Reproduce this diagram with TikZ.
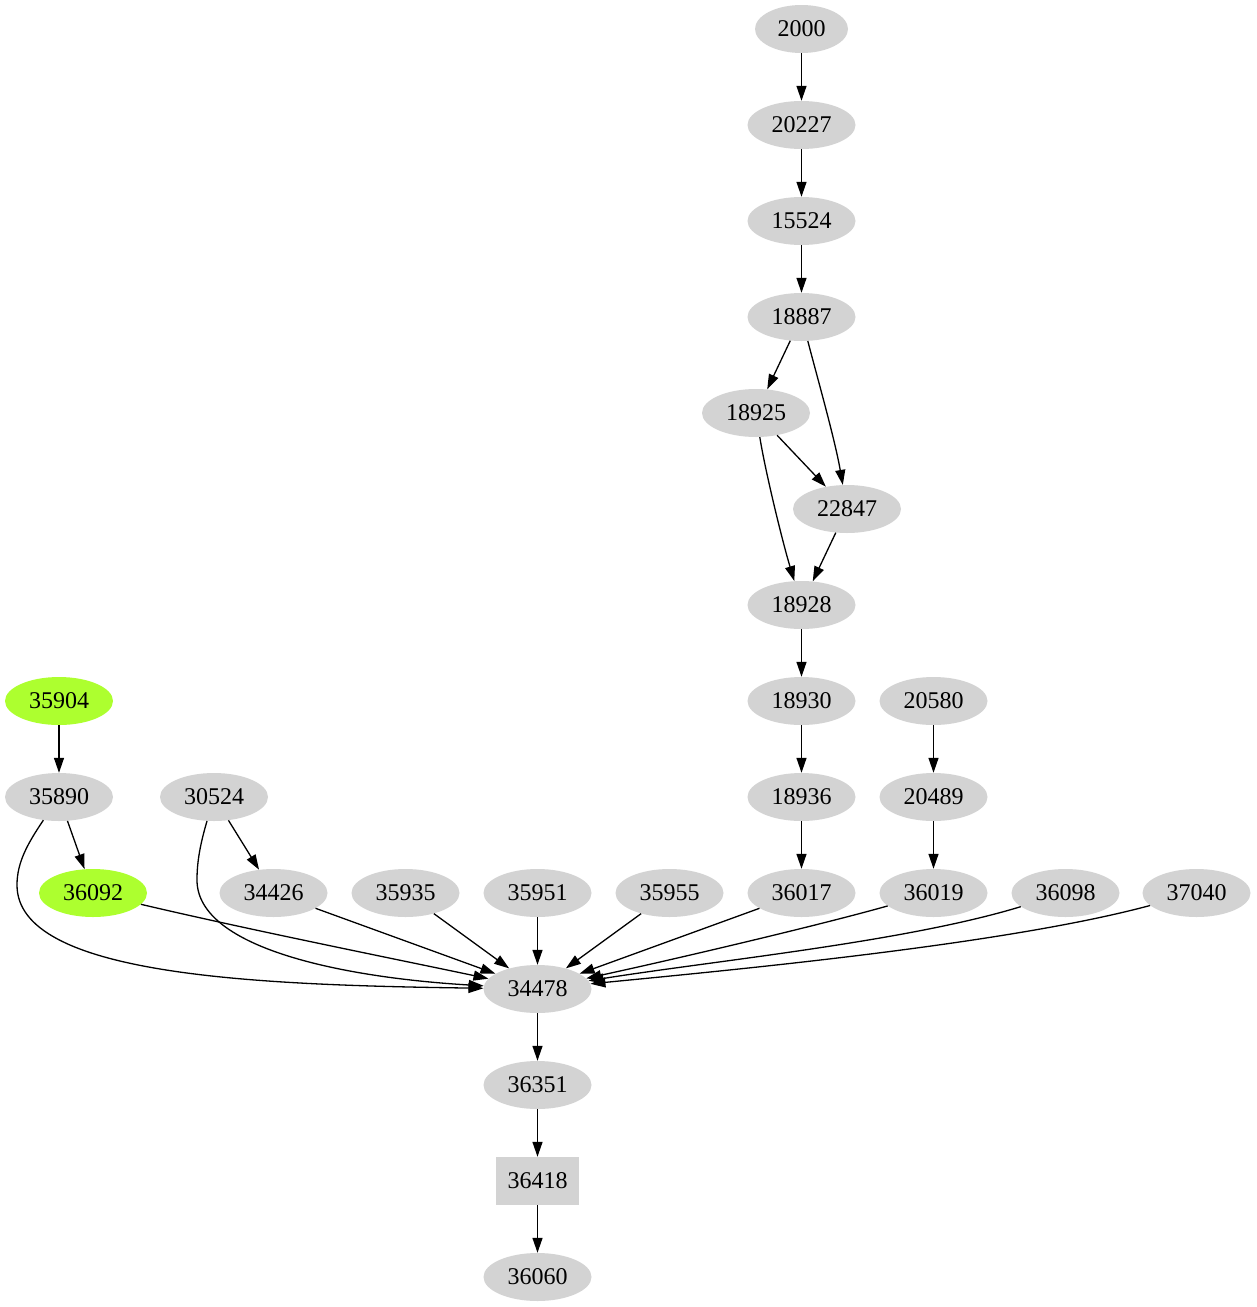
\documentclass[tikz,border=0pt]{standalone}
\usepackage{fontspec}
\setmainfont{Liberation Serif}
\usetikzlibrary{shapes.geometric,arrows.meta}
\definecolor{lgray}{HTML}{D3D3D3}
\definecolor{gyellow}{HTML}{ADFF2F}
\begin{document}
\begin{tikzpicture}[x=1pt,y=-1pt,
  gnode/.style={ellipse, fill=lgray, minimum width=108pt, minimum height=48pt, inner sep=0pt, font=\fontsize{24}{28}\selectfont},
  greennode/.style={gnode, fill=gyellow},
  boxnode/.style={rectangle, fill=lgray, minimum width=83pt, minimum height=48pt, inner sep=0pt, font=\fontsize{24}{28}\selectfont},
  edge/.style={-{Triangle[length=15pt,width=10pt]}, line width=1.3pt, black}]
\useasboundingbox (0,0) rectangle (1257,1307);
% main column
\node[gnode, minimum width=93pt] (n2000) at (801.5,29) {2000};
\node[gnode] (n20227) at (801.5,125) {20227};
\node[gnode] (n15524) at (801.5,221) {15524};
\node[gnode] (n18887) at (801.5,317) {18887};
\node[gnode] (n18925) at (756,413) {18925};
\node[gnode] (n22847) at (847,509) {22847};
\node[gnode] (n18928) at (801.5,605) {18928};
\node[gnode] (n18930) at (801.5,701) {18930};
\node[gnode] (n18936) at (801.5,797) {18936};
\node[gnode] (n20580) at (933.5,701) {20580};
\node[gnode] (n20489) at (933.5,797) {20489};
% left
\node[greennode] (n35904) at (59,701) {35904};
\node[gnode] (n35890) at (59,797) {35890};
\node[gnode] (n30524) at (214,797) {30524};
% row
\node[greennode] (n36092) at (93,893) {36092};
\node[gnode] (n34426) at (273.5,893) {34426};
\node[gnode] (n35935) at (405.5,893) {35935};
\node[gnode] (n35951) at (537.5,893) {35951};
\node[gnode] (n35955) at (669.5,893) {35955};
\node[gnode] (n36017) at (801.5,893) {36017};
\node[gnode] (n36019) at (933.5,893) {36019};
\node[gnode] (n36098) at (1065.5,893) {36098};
\node[gnode] (n37040) at (1196.5,893) {37040};
% bottom column
\node[gnode] (n34478) at (537.5,989) {34478};
\node[gnode] (n36351) at (537.5,1085) {36351};
\node[boxnode] (n36418) at (537.5,1181) {36418};
\node[gnode] (n36060) at (537.5,1277) {36060};
% via points
\coordinate (v1) at (17,885);
\coordinate (v2) at (197,880);
% edges
\draw[edge] (n2000) -- (n20227);
\draw[edge] (n20227) -- (n15524);
\draw[edge] (n15524) -- (n18887);
\draw[edge] (n18887) -- (n18925);
\draw[edge] (n18887) .. controls (818,380) and (835,440) .. (n22847);
\draw[edge] (n18925) -- (n22847);
\draw[edge] (n18925) .. controls (765,470) and (782,540) .. (n18928);
\draw[edge] (n22847) -- (n18928);
\draw[edge] (n18928) -- (n18930);
\draw[edge] (n18930) -- (n18936);
\draw[edge] (n18936) -- (n36017);
\draw[edge] (n20580) -- (n20489);
\draw[edge] (n20489) -- (n36019);
\draw[edge] (n35904) -- (n35890);
\draw[edge] (n35890) -- (n36092);
\draw[edge] (n30524) -- (n34426);
\draw[edge] (n35890) .. controls (28,843) and (17,862) .. (v1) .. controls (17,975) and (250,985) .. (n34478);
\draw[edge] (n30524) .. controls (200,845) and (197,862) .. (v2) .. controls (197,950) and (350,978) .. (n34478);
\draw[edge] (n36092) .. controls (250,930) and (400,960) .. (n34478);
\draw[edge] (n34426) -- (n34478);
\draw[edge] (n35935) -- (n34478);
\draw[edge] (n35951) -- (n34478);
\draw[edge] (n35955) -- (n34478);
\draw[edge] (n36017) -- (n34478);
\draw[edge] (n36019) .. controls (820,925) and (680,958) .. (n34478);
\draw[edge] (n36098) .. controls (905,942) and (712,961) .. (n34478);
\draw[edge] (n37040) .. controls (1007,944) and (742,969) .. (n34478);
\draw[edge] (n34478) -- (n36351);
\draw[edge] (n36351) -- (n36418);
\draw[edge] (n36418) -- (n36060);
\end{tikzpicture}
\end{document}
